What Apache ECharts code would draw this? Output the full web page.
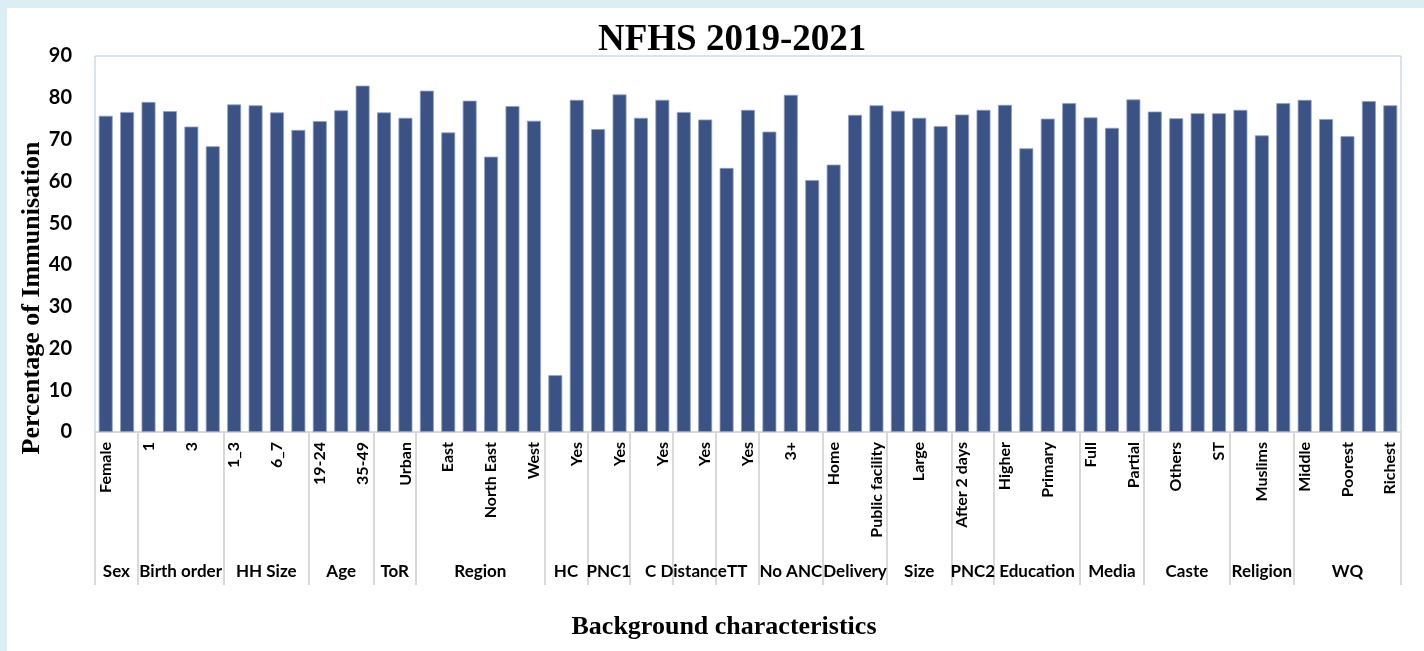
<!DOCTYPE html>
<html>
<head>
<meta charset="utf-8">
<script src="https://cdn.jsdelivr.net/npm/echarts@6/dist/echarts.min.js"></script>
<style>
  html, body { margin: 0; padding: 0; background: #dbeef4; }
  #chart { position: absolute; left: 7px; top: 8px; width: 1417px; height: 643px; background: #fff; }
</style>
</head>
<body>
<div id="chart"></div>
<script>
// group names (outer axis row) and how many bars each holds
var groups = ["Sex", "Birth order", "HH Size", "Age", "ToR", "Region", "HC", "PNC1", "",
  "C Distance", "TT", "No ANC", "Delivery", "Size", "PNC2", "Education", "Media", "Caste", "Religion", "WQ"];
var groupSizes = [2, 4, 4, 3, 2, 6, 2, 2, 2, 2, 2, 3, 3, 3, 2, 4, 3, 4, 3, 5];

// inner categories (every other one is shown, like the original)
var categories = [
  "Female", "Male",
  "1", "2", "3", "4+",
  "1_3", "4_5", "6_7", "8+",
  "19-24", "25-34", "35-49",
  "Rural", "Urban",
  "Central", "East", "North", "North East", "South", "West",
  "No", "Yes",
  "No", "Yes",
  "No", "Yes",
  "No", "Yes",
  "No", "Yes",
  "1-2", "3+", "None",
  "Home", "Private facility", "Public facility",
  "Average", "Large", "Small",
  "After 2 days", "Within 2 days",
  "Higher", "No education", "Primary", "Secondary",
  "Full", "No", "Partial",
  "OBC", "Others", "SC", "ST",
  "Hindu", "Muslims", "Others",
  "Middle", "Poorer", "Poorest", "Richer", "Richest"
];

var values = [
  75.7, 76.6,
  79.0, 76.8, 73.1, 68.4,
  78.4, 78.2, 76.5, 72.3,
  74.4, 77.0, 82.9,
  76.5, 75.2,
  81.7, 71.7, 79.3, 65.9, 78.0, 74.5,
  13.6, 79.5,
  72.5, 80.8,
  75.2, 79.5,
  76.6, 74.8,
  63.2, 77.1,
  71.9, 80.7, 60.3,
  64.0, 75.9, 78.2,
  76.9, 75.2, 73.2,
  76.0, 77.1,
  78.3, 67.9, 75.0, 78.7,
  75.3, 72.8, 79.6,
  76.7, 75.1, 76.3, 76.3,
  77.1, 71.0, 78.7,
  79.5, 74.9, 70.8, 79.2, 78.2
];

// group boundaries and centres in category index units
var bounds = [-0.5];
var centres = [];
var start = 0;
groupSizes.forEach(function (n) {
  centres.push(start + (n - 1) / 2);
  start += n;
  bounds.push(start - 0.5);
});
// the original pushes "C Distance" a bit left so it runs into "TT"
centres[9] -= 0.4;

var myChart = echarts.init(document.getElementById("chart"));

var option = {
  animation: false,
  title: {
    text: "NFHS 2019-2021",
    left: 586,
    top: 9,
    textStyle: { fontFamily: "Liberation Serif", fontWeight: "bold", fontSize: 37, color: "#000" }
  },
  grid: {
    left: 88, top: 48, right: 23, bottom: 219,
    show: true, borderColor: "#b4c7e7", borderWidth: 1
  },
  xAxis: [
    {
      type: "category",
      data: categories,
      axisLine: { lineStyle: { color: "#d9d9d9", width: 2 } },
      axisTick: { show: false },
      axisLabel: {
        interval: 1,
        rotate: 90,
        margin: 10,
        color: "#000",
        fontFamily: "Lato",
        fontWeight: "bold",
        fontSize: 16
      }
    },
    {
      // outer row: group names + separators
      type: "value",
      position: "bottom",
      min: -0.5,
      max: categories.length - 0.5,
      axisLine: { show: false },
      splitLine: { show: false },
      axisTick: {
        show: true,
        customValues: bounds,
        length: 153,
        lineStyle: { color: "#d9d9d9", width: 2 }
      },
      axisLabel: {
        customValues: centres,
        margin: 131,
        color: "#000",
        fontFamily: "Lato",
        fontWeight: "bold",
        fontSize: 17,
        formatter: function (v) {
          for (var i = 0; i < centres.length; i++) {
            if (Math.abs(centres[i] - v) < 1e-6) return groups[i];
          }
          return "";
        }
      }
    }
  ],
  yAxis: {
    type: "value",
    min: 0,
    max: 90,
    interval: 10,
    axisLine: { show: false },
    axisTick: { show: false },
    splitLine: { show: false },
    axisLabel: {
      margin: 23,
      color: "#000",
      fontFamily: "Lato",
      fontWeight: "bold",
      fontSize: 20
    }
  },
  graphic: [
    {
      type: "text",
      x: 25, y: 290,
      rotation: Math.PI / 2,
      style: {
        text: "Percentage of Immunisation",
        font: "bold 26px 'Liberation Serif'",
        fill: "#000",
        align: "center", verticalAlign: "middle",
        textAlign: "center", textVerticalAlign: "middle"
      }
    },
    {
      type: "text",
      x: 717, y: 619,
      style: {
        text: "Background characteristics",
        font: "bold 26px 'Liberation Serif'",
        fill: "#000",
        align: "center", verticalAlign: "middle",
        textAlign: "center", textVerticalAlign: "middle"
      }
    }
  ],
  series: [
    {
      type: "bar",
      xAxisIndex: 0,
      data: values,
      barCategoryGap: "35%",
      itemStyle: { color: "#3b5285", borderColor: "#8da0c8", borderWidth: 0.8 }
    }
  ]
};

myChart.setOption(option);
</script>
</body>
</html>
